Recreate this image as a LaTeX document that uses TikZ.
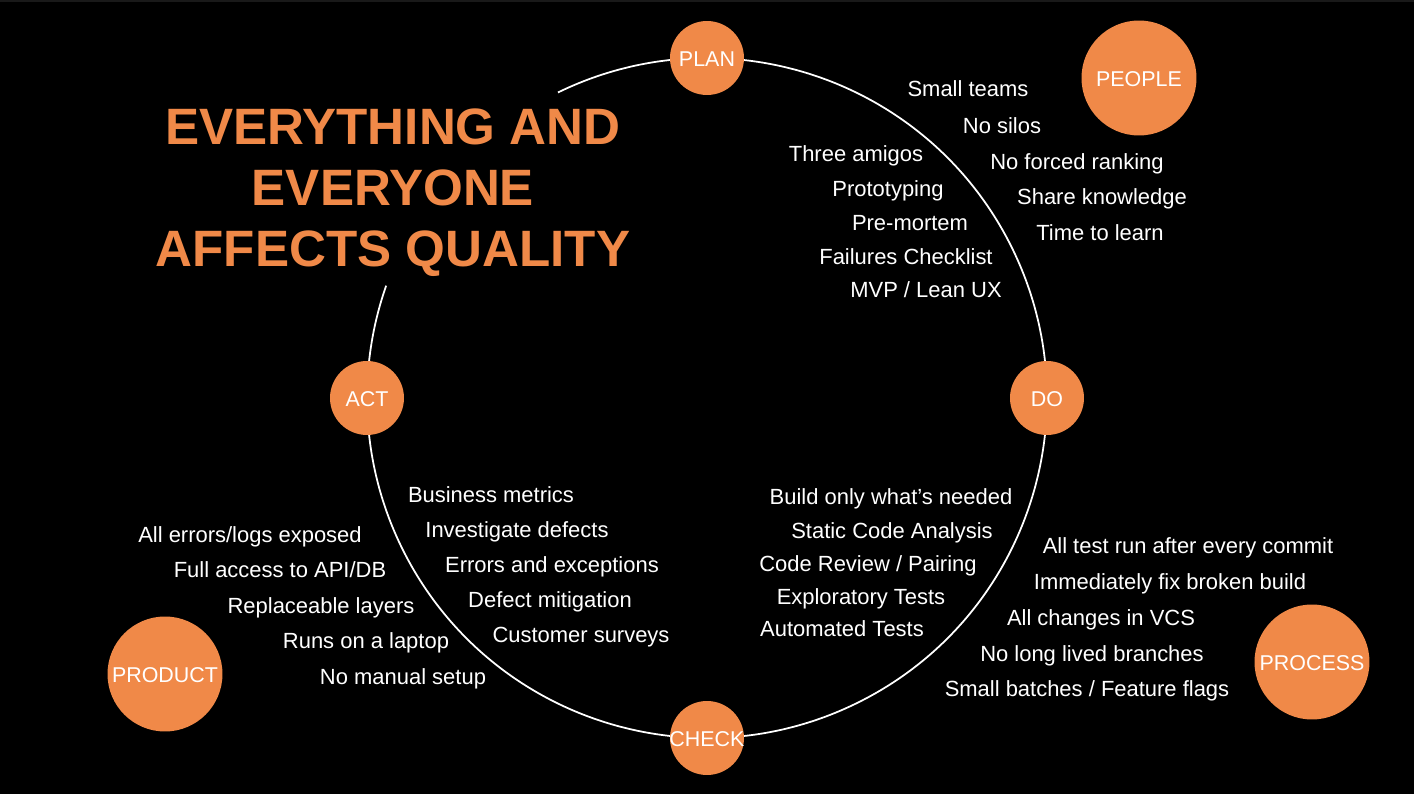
\documentclass[tikz,border=0pt]{standalone}
\usepackage{fontspec}
\setmainfont{Liberation Sans}
\usepackage{tikz}
\usepackage{xcolor}
\definecolor{qorange}{RGB}{240,137,72}
\def\ringrad{6.8cm}

\begin{document}
\begin{tikzpicture}[x=0.02cm, y=0.02cm, draw=white, round/.style={circle,fill=qorange,inner sep=0pt}]
	\tikzstyle{stage}=[round,minimum size=1.48cm]
	\tikzstyle{area}=[round,minimum size=2.3cm]
	\tikzstyle{tag}=[text=white,inner sep=0pt,yshift=-0.03cm,font=\fontsize{12.2}{14}\selectfont]
	\tikzstyle{item}=[text=white,inner sep=0pt,text height=0.72em,text depth=0pt,font=\fontsize{12.5}{15}\selectfont]
	\tikzstyle{title}=[text=qorange,align=center,font=\bfseries\fontsize{29.1}{34.7}\selectfont]

	% Background
	\useasboundingbox (-707,-396) rectangle (707,398);
	\fill[black] (-707,-396) rectangle (707,398);
	\fill[black!90] (-707,396) rectangle (707,398);
	\coordinate (c) at (0,0);

	% Draw the cycle
	\draw[line width=1pt] ([shift={(116:\ringrad)}]c) arc[start angle=116, end angle=-199.3, radius=\ringrad];

	% Draw the stage nodes on the cycle
	\foreach \name/\ang/\txt in {plan/90/PLAN, do/0/DO, check/270/CHECK, act/180/ACT}
	\node[stage, label={[tag]center:\txt}] (\name) at (\ang:340) {};

	% Draw the area nodes
	\node[area, label={[tag]center:PEOPLE}] (people) at (432,320) {};
	\node[area, label={[tag]center:PRODUCT}] (product) at (-542,-276) {};
	\node[area, label={[tag]center:PROCESS}] (process) at (605,-264) {};

	% Headline
	\node[title] (headline) at (-314,205) {EVERYTHING AND\\EVERYONE\\AFFECTS QUALITY};

	% People practices
	\foreach \name/\x/\y/\txt in {1/261/308/Small teams, 2/295/271/No silos, 3/370/235/No forced ranking,
		4/395/200/Share knowledge, 5/393/164/Time to learn}
	\node[item] (people-\name) at (\x,\y) {\txt};

	% Plan practices
	\foreach \name/\x/\y/\txt in {1/149/243/Three amigos, 2/181/208/Prototyping, 3/203/174/Pre-mortem,
		4/199/140/Failures Checklist, 5/219/107/{MVP / Lean UX}}
	\node[item] (plan-\name) at (\x,\y) {\txt};

	% Check practices
	\foreach \name/\x/\y/\txt in {1/184/-100/Build only what’s needed, 2/185/-134/Static Code Analysis,
		3/161/-167/{Code Review / Pairing}, 4/154/-200/Exploratory Tests, 5/135/-232/Automated Tests}
	\node[item] (check-\name) at (\x,\y) {\txt};

	% Process practices
	\foreach \name/\x/\y/\txt in {1/481/-149/All test run after every commit, 2/463/-185/Immediately fix broken build,
		3/394/-221/All changes in VCS, 4/385/-257/No long lived branches, 5/380/-292/{Small batches / Feature flags}}
	\node[item] (process-\name) at (\x,\y) {\txt};

	% Act practices
	\foreach \name/\x/\y/\txt in {1/-216/-98/Business metrics, 2/-190/-133/Investigate defects,
		3/-155/-168/Errors and exceptions, 4/-157/-203/Defect mitigation, 5/-126/-238/Customer surveys}
	\node[item] (act-\name) at (\x,\y) {\txt};

	% Product practices
	\foreach \name/\x/\y/\txt in {1/-457/-138/{All errors/logs exposed}, 2/-427/-173/{Full access to API/DB},
		3/-386/-209/Replaceable layers, 4/-341/-244/Runs on a laptop, 5/-304/-280/No manual setup}
	\node[item] (product-\name) at (\x,\y) {\txt};

\end{tikzpicture}
\end{document}
